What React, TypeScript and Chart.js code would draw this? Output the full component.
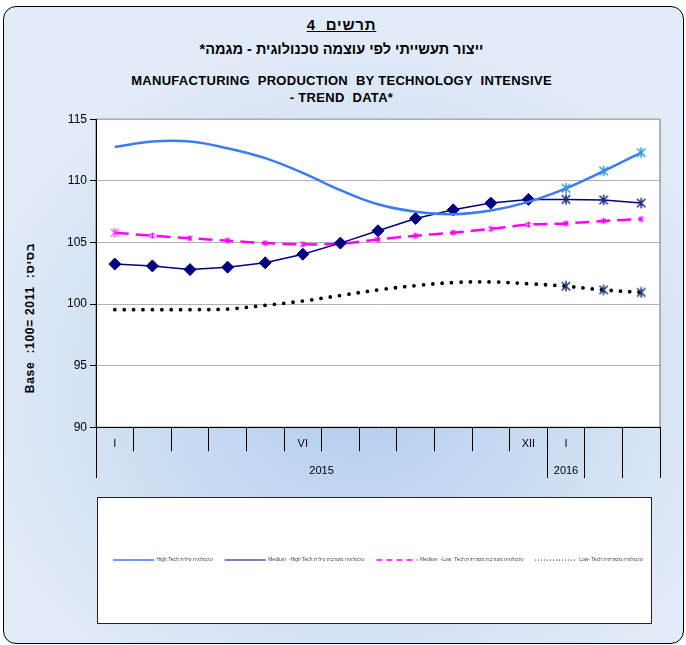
import React, { useEffect, useRef } from 'react';
import { Chart, registerables } from 'chart.js';

Chart.register(...registerables);

// ---------- data ----------
const monthLabels = ['I', '', '', '', '', 'VI', '', '', '', '', '', 'XII', 'I', '', ''];
const yearGroupLabels = ['2015', '2016', '', ''];
const yearGroupSizes = [12, 1, 1, 1];
const firstForecastIndex = 12;

const highTech = [112.75, 113.2, 113.2, 112.65, 111.85, 110.65, 109.25, 108.1, 107.5, 107.3, 107.6, 108.3, 109.4, 110.8, 112.3];
const mediumHigh = [103.25, 103.1, 102.8, 103.0, 103.35, 104.05, 104.95, 105.95, 106.95, 107.65, 108.2, 108.5, 108.5, 108.45, 108.2];
const mediumLow = [105.8, 105.55, 105.35, 105.15, 104.95, 104.85, 104.9, 105.25, 105.55, 105.8, 106.1, 106.45, 106.55, 106.75, 106.9];
const lowTech = [99.55, 99.55, 99.55, 99.6, 99.9, 100.25, 100.7, 101.15, 101.5, 101.75, 101.8, 101.65, 101.45, 101.15, 100.95];

const seriesNames = [
  'High Tech טכנולוגיה עילית',
  'Medium  -High Tech טכנולוגיה מעורבת עילית',
  'Medium  -Low  Tech טכנולוגיה מעורבת מסורתית',
  'Low- Tech טכנולוגיה מסורתית',
];

const yTicks = { min: 90, max: 115, step: 5 };

const FONT = '"Liberation Sans", Arial, "DejaVu Sans", sans-serif';

function makeStar(size: number, color: string, lw: number): HTMLCanvasElement {
  const c = document.createElement('canvas');
  c.width = size;
  c.height = size;
  const ctx = c.getContext('2d')!;
  ctx.strokeStyle = color;
  ctx.lineWidth = lw;
  ctx.lineCap = 'butt';
  const h = size / 2;
  const r = h - lw / 2;
  const d = r * 0.8;
  ctx.beginPath();
  ctx.moveTo(h, h - r);
  ctx.lineTo(h, h + r);
  ctx.moveTo(h - d, h - d);
  ctx.lineTo(h + d, h + d);
  ctx.moveTo(h + d, h - d);
  ctx.lineTo(h - d, h + d);
  ctx.stroke();
  return c;
}

export default function App() {
  const ref = useRef<HTMLCanvasElement>(null);

  useEffect(() => {
    const starBlue = makeStar(12, '#2d97d6', 1.5);
    const starNavy = makeStar(12, '#1c2a7a', 1.5);
    const starDark = makeStar(12, '#1f3470', 1.5);
    const starMagSmall = makeStar(7, '#ff00ff', 1.2);
    const starMagBig = makeStar(11, '#ff33ff', 1.3);

    const isForecast = (i: number) => i >= firstForecastIndex;

    // year axis ticks: group boundaries and group centres
    const boundaries: number[] = [-0.5];
    const centres: { v: number; label: string }[] = [];
    let start = 0;
    yearGroupSizes.forEach((sz, gi) => {
      centres.push({ v: start + (sz - 1) / 2, label: yearGroupLabels[gi] });
      start += sz;
      boundaries.push(start - 0.5);
    });
    const isBoundary = (v: number) => boundaries.some((b) => Math.abs(b - v) < 1e-6);

    const legendLine: Record<number, { w: number; dash: number[]; cap: CanvasLineCap }> = {
      0: { w: 1.5, dash: [], cap: 'butt' },
      1: { w: 1.2, dash: [], cap: 'butt' },
      2: { w: 1.5, dash: [6, 4], cap: 'butt' },
      3: { w: 1.2, dash: [0, 3], cap: 'round' },
    };

    const plotBg = {
      id: 'plotBg',
      beforeDraw(chart: any) {
        const { ctx, chartArea: a } = chart;
        ctx.save();
        ctx.fillStyle = '#ffffff';
        ctx.fillRect(a.left, a.top, a.right - a.left, a.bottom - a.top);
        ctx.strokeStyle = '#9a9a9a';
        ctx.lineWidth = 1.5;
        ctx.strokeRect(a.left, a.top, a.right - a.left, a.bottom - a.top);
        ctx.restore();
      },
    };

    const chart = new Chart(ref.current!, {
      type: 'line',
      data: {
        labels: monthLabels,
        datasets: [
          {
            label: seriesNames[0],
            data: highTech,
            borderColor: '#3a7cf2',
            backgroundColor: '#3a7cf2',
            borderWidth: 2.5,
            tension: 0.4,
            pointStyle: highTech.map((_, i) => (isForecast(i) ? starBlue : 'circle')) as any,
            pointRadius: highTech.map((_, i) => (isForecast(i) ? 5 : 0)),
          },
          {
            label: seriesNames[1],
            data: mediumHigh,
            borderColor: '#000080',
            backgroundColor: '#000080',
            borderWidth: 1.5,
            tension: 0,
            pointStyle: mediumHigh.map((_, i) => (isForecast(i) ? starNavy : 'rectRot')) as any,
            pointRadius: 6,
            pointBackgroundColor: '#000080',
            pointBorderColor: '#000080',
            pointBorderWidth: 1,
          },
          {
            label: seriesNames[2],
            data: mediumLow,
            borderColor: '#ff00ff',
            backgroundColor: '#ff00ff',
            borderWidth: 2.5,
            borderDash: [14, 7],
            tension: 0.3,
            pointStyle: mediumLow.map((_, i) => (i === 0 ? starMagBig : starMagSmall)) as any,
            pointRadius: 4,
          },
          {
            label: seriesNames[3],
            data: lowTech,
            borderColor: '#000000',
            backgroundColor: '#000000',
            borderWidth: 3.8,
            borderDash: [0, 9.4],
            borderCapStyle: 'round',
            tension: 0.4,
            pointStyle: lowTech.map((_, i) => (isForecast(i) ? starDark : 'circle')) as any,
            pointRadius: lowTech.map((_, i) => (isForecast(i) ? 5 : 0)),
          },
        ],
      },
      options: {
        responsive: false,
        animation: false,
        events: [],
        layout: { padding: { left: 56, right: 26, top: 119.3, bottom: 72.5 } },
        scales: {
          x: {
            type: 'category',
            position: 'bottom',
            weight: 0,
            offset: true,
            grid: {
              offset: true,
              drawOnChartArea: false,
              drawTicks: true,
              tickLength: 24,
              color: '#000',
              tickColor: '#000',
              lineWidth: 1,
            },
            border: { display: true, color: '#000', width: 1 },
            ticks: {
              autoSkip: false,
              maxRotation: 0,
              padding: -13.9,
              color: '#000',
              font: { family: FONT, size: 11 },
            },
            afterFit: (s: any) => {
              s.height = 22.7;
            },
          },
          x2: {
            type: 'linear',
            position: 'bottom',
            weight: 1,
            min: -0.5,
            max: 14.5,
            afterBuildTicks: (s: any) => {
              const vals = [...boundaries, ...centres.map((c) => c.v)].sort((a, b) => a - b);
              s.ticks = vals.map((v) => ({ value: v }));
            },
            grid: {
              drawOnChartArea: false,
              drawTicks: true,
              tickLength: 28,
              color: (c: any) => (isBoundary(c.tick.value) ? '#000' : 'rgba(0,0,0,0)'),
              tickColor: (c: any) => (isBoundary(c.tick.value) ? '#000' : 'rgba(0,0,0,0)'),
              lineWidth: 1,
            },
            border: { display: false },
            ticks: {
              autoSkip: false,
              maxRotation: 0,
              padding: -13.9,
              color: '#000',
              font: { family: FONT, size: 11 },
              callback: (v: any) => {
                const c = centres.find((cc) => Math.abs(cc.v - Number(v)) < 1e-6);
                return c ? c.label : '';
              },
            },
            afterFit: (s: any) => {
              s.height = 95.5;
            },
          },
          y: {
            min: yTicks.min,
            max: yTicks.max,
            ticks: {
              stepSize: yTicks.step,
              color: '#000',
              padding: 3,
              font: { family: FONT, size: 12 },
            },
            grid: { color: '#b0b0b0', tickColor: '#000', tickLength: 6, lineWidth: 1 },
            border: { display: true, color: '#000', width: 1 },
            afterFit: (s: any) => {
              s.width = 40;
            },
          },
        },
        plugins: {
          title: { display: false },
          tooltip: { enabled: false },
          legend: {
            display: true,
            position: 'bottom',
            fullSize: false,
            align: 'center',
            labels: {
              usePointStyle: true,
              pointStyleWidth: 41,
              padding: 12,
              color: '#444',
              font: { family: FONT, size: 5 },
              generateLabels: (ch: any) => {
                const items = (Chart.defaults.plugins.legend.labels as any).generateLabels(ch);
                return items.map((it: any) => {
                  const ds = ch.data.datasets[it.datasetIndex];
                  const l = legendLine[it.datasetIndex];
                  return {
                    ...it,
                    pointStyle: 'line',
                    strokeStyle: ds.borderColor,
                    lineWidth: l.w,
                    lineDash: l.dash,
                    lineCap: l.cap,
                  };
                });
              },
            },
          },
        },
      } as any,
      plugins: [plotBg],
    });
    return () => chart.destroy();
  }, []);

  const titleBase: React.CSSProperties = {
    position: 'absolute',
    left: 0,
    width: 683,
    textAlign: 'center',
    fontWeight: 'bold',
    whiteSpace: 'pre',
    color: '#000',
  };

  return (
    <div style={{ position: 'absolute', left: 0, top: 0, width: 686, height: 645, overflow: 'hidden', fontFamily: FONT }}>
      <div
        style={{
          position: 'absolute',
          left: 3,
          top: 6,
          width: 681,
          height: 638,
          boxSizing: 'border-box',
          border: '1px solid #000',
          borderRadius: 13,
          background: 'radial-gradient(ellipse 58% 55% at 52% 60%, #b2ccee 0%, #c8dbf2 45%, #e2ebf8 100%)',
        }}
      />
      <div
        style={{
          position: 'absolute',
          left: 97,
          top: 497,
          width: 555,
          height: 127,
          boxSizing: 'border-box',
          border: '1px solid #222',
          background: '#fff',
        }}
      />
      <div dir="rtl" style={{ ...titleBase, top: 15, fontSize: 15, lineHeight: '20px', letterSpacing: 0.8 }}>
        <span style={{ textDecoration: 'underline' }}>{'תרשים  4'}</span>
      </div>
      <div dir="rtl" style={{ ...titleBase, top: 39, fontSize: 14.5, lineHeight: '20px' }}>
        ייצור תעשייתי לפי עוצמה טכנולוגית - מגמה*
      </div>
      <div style={{ ...titleBase, top: 72, fontSize: 13, lineHeight: '18px', letterSpacing: 0.3 }}>
        {'MANUFACTURING  PRODUCTION  BY TECHNOLOGY  INTENSIVE'}
      </div>
      <div style={{ ...titleBase, top: 89, fontSize: 13, lineHeight: '18px', letterSpacing: 0.3 }}>{'- TREND  DATA*'}</div>
      <div
        style={{
          position: 'absolute',
          left: 30,
          top: 318,
          transform: 'translate(-50%, -50%) rotate(-90deg)',
          fontWeight: 'bold',
          fontSize: 12,
          letterSpacing: 0.7,
          whiteSpace: 'pre',
          color: '#000',
        }}
      >
        {'Base  :100= 2011  :בסיס'}
      </div>
      <canvas
        ref={ref}
        width={686}
        height={645}
        style={{ position: 'absolute', left: 0, top: 0, width: 686, height: 645 }}
      />
    </div>
  );
}
